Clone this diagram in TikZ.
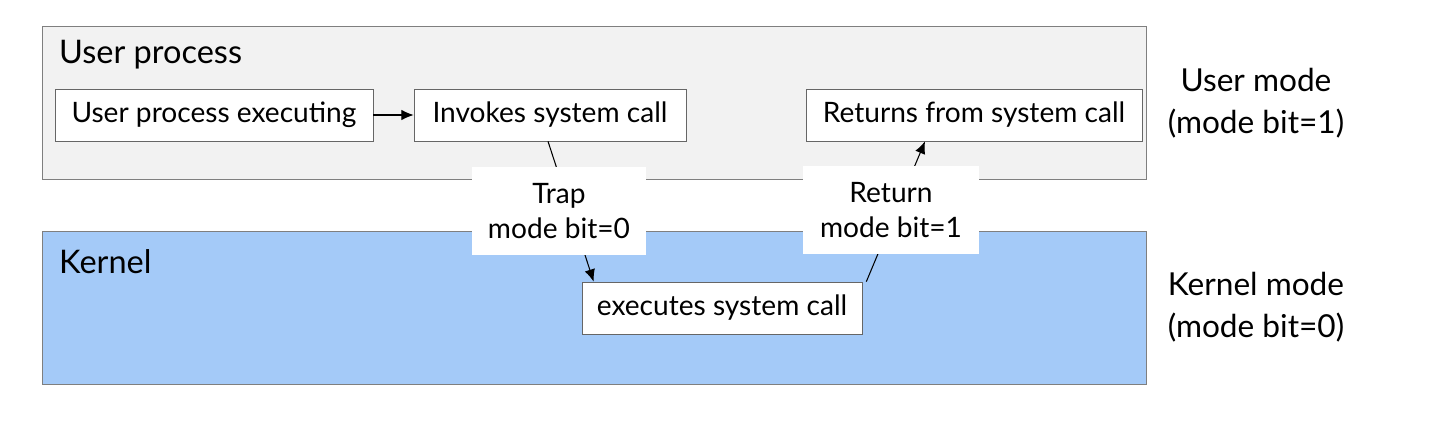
\documentclass[tikz,border=0pt]{standalone}
\usepackage{fontspec}
\setmainfont{Lato}
\usetikzlibrary{arrows.meta}
\usetikzlibrary{calc}
\definecolor{usergray}{HTML}{F2F2F2}
\definecolor{kernelblue}{HTML}{A4CAF8}
\definecolor{edgegray}{HTML}{7F7F7F}
\tikzset{
  stepbox/.style={draw=edgegray!80!black, fill=white, minimum height=1.04cm, inner sep=0pt, font=\fontsize{16}{19}\selectfont},
  modelabel/.style={fill=white, inner sep=0pt, align=center, font=\fontsize{16}{19.5}\selectfont},
  sidelabel/.style={align=center, font=\fontsize{18}{24}\selectfont},
  switch/.style={black, line width=0.6pt, -{Latex[length=7pt,width=6pt]}},
}
\begin{document}
\begin{tikzpicture}[x=0.02cm, y=-0.02cm]
\useasboundingbox (0,0) rectangle (1440,436);
% the two modes
\draw[edgegray, fill=usergray] (42,26) rectangle (1146,179);
\draw[edgegray, fill=kernelblue] (42,231) rectangle (1146,384);
\node[anchor=west, font=\fontsize{18.5}{22}\selectfont] (usertitle) at (53,55) {User process};
\node[anchor=west, font=\fontsize{18.5}{22}\selectfont] (kerneltitle) at (53,262) {Kernel};
\node[sidelabel] (usermode) at (1256,103) {User mode\\(mode bit=1)};
\node[sidelabel] (kernelmode) at (1256,307) {Kernel mode\\(mode bit=0)};
% steps
\node[stepbox, minimum width=6.36cm] (executing) at (214,115) {User process executing};
\node[stepbox, minimum width=5.44cm] (invokes) at (550,115) {Invokes system call};
\node[stepbox, minimum width=6.72cm] (returns) at (974,115) {Returns from system call};
\node[stepbox, minimum width=5.6cm] (syscall) at (722,308) {executes system call};
\draw[switch] (executing) -- (invokes);
\draw[switch] ($(invokes.south)+(-2,0)$) -- ($(syscall.north west)+(12,0)$);
\draw[switch] ($(syscall.north east)+(4,0)$) -- ($(returns.south)+(-49,0)$);
% mode switches
\node[modelabel, minimum width=3.48cm, minimum height=1.76cm] (trap) at (559,211) {Trap\\mode bit=0};
\node[modelabel, minimum width=3.54cm, minimum height=1.78cm] (return) at (891,210) {Return\\mode bit=1};
\end{tikzpicture}
\end{document}
